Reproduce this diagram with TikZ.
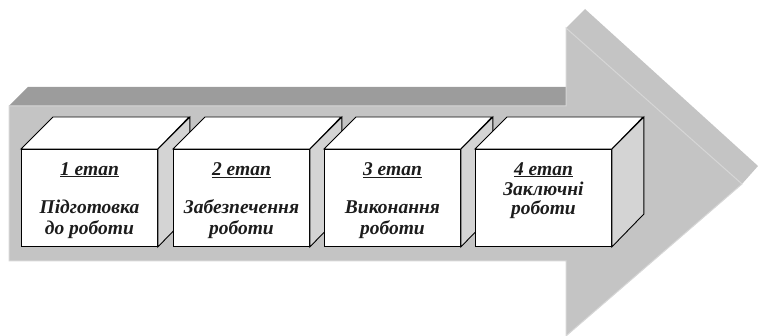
\documentclass[tikz,border=0pt]{standalone}
\usepackage{fontspec}
\setmainfont{Liberation Serif}
\definecolor{facegray}{HTML}{C4C4C4}
\definecolor{topgray}{HTML}{9C9C9C}
\definecolor{edgegray}{HTML}{D6D6D6}
\definecolor{sidegray}{HTML}{D4D4D4}
\definecolor{textc}{HTML}{1C1C1C}
\tikzset{
  front/.style={draw=black, line width=0.9pt, fill=white, minimum width=136pt, minimum height=97pt, inner sep=0pt, anchor=north west},
  topface/.style={draw=black, line width=0.9pt, fill=white, line join=miter},
  sideface/.style={draw=black, line width=0.9pt, fill=sidegray, line join=miter},
  lbl/.style={font=\bfseries\itshape\fontsize{19.5}{21}\selectfont, text=textc, align=center, anchor=north, inner sep=0pt},
  arrowfront/.style={fill=facegray, draw=edgegray, line width=1pt, line join=miter},
  arrowtop/.style={fill=topgray},
  arrowslant/.style={fill=facegray}
}
\begin{document}
\begin{tikzpicture}[x=1pt,y=-1pt]
\useasboundingbox (0,0) rectangle (758,336);
% arrow: top face of body
\fill[arrowtop] (9,106) -- (28,87) -- (585,87) -- (566,106) -- cycle;
% arrow: upper slanted face of head
\fill[arrowslant] (566,28) -- (585,9) -- (758,166) -- (742,184) -- cycle;
% arrow: front face
\draw[arrowfront] (9,106) -- (566,106) -- (566,28) -- (742,184) -- (566,336) -- (566,261) -- (9,261) -- cycle;
% box 1
\node[front] (b1) at (21,149) {};
\draw[topface] (b1.north west) -- ++(32,-32) -- ++(136,0) -- (b1.north east) -- cycle;
\draw[sideface] (b1.north east) -- ++(32,-32) -- ++(0,97) -- (b1.south east) -- cycle;
% box 2
\node[front] (b2) at (173,149) {};
\draw[topface] (b2.north west) -- ++(32,-32) -- ++(136,0) -- (b2.north east) -- cycle;
\draw[sideface] (b2.north east) -- ++(32,-32) -- ++(0,97) -- (b2.south east) -- cycle;
% box 3
\node[front] (b3) at (324,149) {};
\draw[topface] (b3.north west) -- ++(32,-32) -- ++(136,0) -- (b3.north east) -- cycle;
\draw[sideface] (b3.north east) -- ++(32,-32) -- ++(0,97) -- (b3.south east) -- cycle;
% box 4
\node[front] (b4) at (475,149) {};
\draw[topface] (b4.north west) -- ++(32,-32) -- ++(136,0) -- (b4.north east) -- cycle;
\draw[sideface] (b4.north east) -- ++(32,-32) -- ++(0,97) -- (b4.south east) -- cycle;
% labels
\node[lbl] (t1) at ([yshift=-13pt]b1.north) {\underline{1 етап}\\[17pt]Підготовка\\до роботи};
\node[lbl] (t2) at ([yshift=-13pt]b2.north) {\underline{2 етап}\\[17pt]Забезпечення\\роботи};
\node[lbl] (t3) at ([yshift=-13pt]b3.north) {\underline{3 етап}\\[17pt]Виконання\\роботи};
\node[lbl] (t4) at ([yshift=-13pt]b4.north) {\underline{4 етап}\\[-1pt]Заключні\\[-2pt]роботи};
\end{tikzpicture}
\end{document}
